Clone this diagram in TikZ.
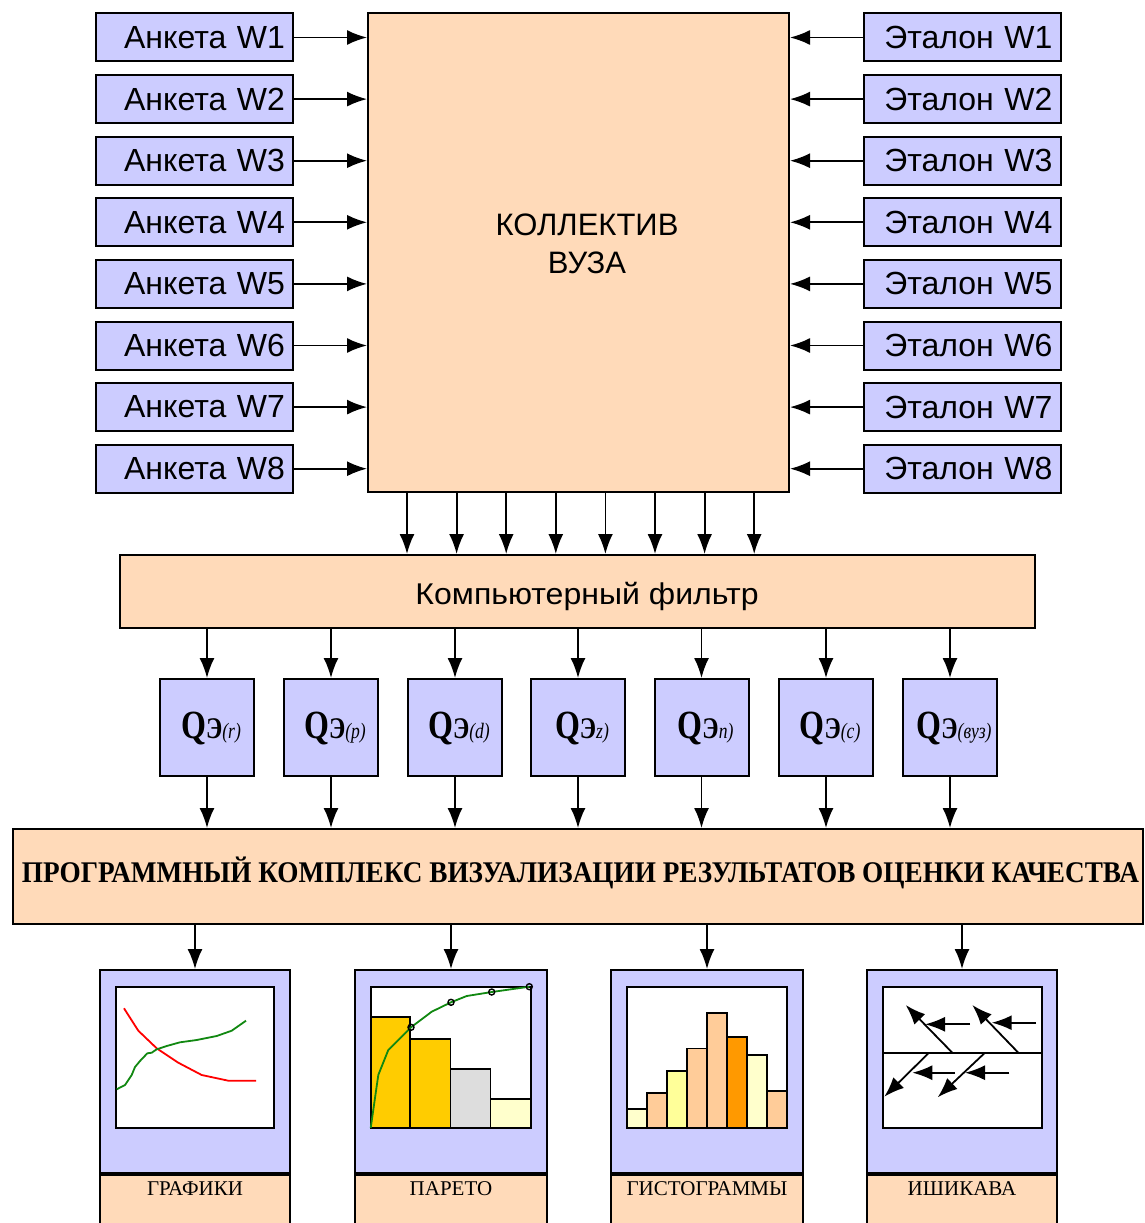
\documentclass[tikz,border=0pt]{standalone}
\usepackage{graphicx}
\usepackage{fontspec}
\setmainfont{Liberation Serif}
\setsansfont{Liberation Sans}
\usetikzlibrary{arrows.meta}
\definecolor{lav}{HTML}{CCCCFF}
\definecolor{peach}{HTML}{FFDAB9}
\definecolor{dgreen}{HTML}{118811}
\definecolor{yel}{HTML}{FFCC00}
\definecolor{lgray}{HTML}{DDDDDD}
\definecolor{lyel}{HTML}{FFFFCC}
\definecolor{myel}{HTML}{FFFF99}
\definecolor{lor}{HTML}{FFCC99}
\definecolor{dor}{HTML}{FF9900}
\newcommand{\qlabel}[1]{\scalebox{0.8}[1]{\bfseries{\fontsize{40}{40}\selectfont Q}{\fontsize{30}{30}\selectfont Э}{\fontsize{22}{22}\selectfont\mdseries\itshape #1}}}
\begin{document}
\begin{tikzpicture}[x=1pt,y=-1pt,
  box/.style={draw=black,line width=2pt,inner sep=0pt},
  wbox/.style={box,fill=lav,minimum width=197pt,minimum height=48pt,text width=181pt,inner xsep=8pt,align=right,font=\sffamily\fontsize{32}{32}\selectfont},
  qbox/.style={box,fill=lav,minimum width=94pt,minimum height=97pt},
  arr/.style={line width=1.8pt,-{Latex[length=20pt,width=15pt]}},
  farr/.style={line width=1.8pt,-{Latex[length=20pt,width=15pt]}},
  chart/.style={draw=black,line width=1.8pt,fill=white,minimum height=141pt,inner sep=0pt},
  bar/.style={draw=black,line width=1.6pt},
  lbl/.style={font=\fontsize{21}{21}\selectfont}
]
\useasboundingbox (0,0) rectangle (1145,1223);
\fill[white] (0,0) rectangle (1145,1223);
% central box
\node[box,fill=peach,minimum width=421pt,minimum height=479pt] (kv) at (578.5,252.5) {};
\node[font=\sffamily\fontsize{31}{38}\selectfont,align=center] (kvt) at (587,244) {КОЛЛЕКТИВ\\ВУЗА};
\foreach \i in {1,...,8}{
  \pgfmathsetmacro\yy{37.5+(\i-1)*61.6}
  \node[wbox] (a\i) at (194.5,\yy) {Анкета W\i};
  \node[wbox] (e\i) at (962,\yy) {Эталон W\i};
  \draw[arr] (a\i.east) -- (kv.west |- a\i.east);
  \draw[arr] (e\i.west) -- (kv.east |- e\i.west);
}
% filter
\node[box,fill=peach,minimum width=915pt,minimum height=73pt] (filt) at (577.5,591.5) {};
\node[font=\sffamily\fontsize{30}{30}\selectfont] (filtt) at (587,596) {\resizebox{343pt}{\height}{Компьютерный фильтр}};
\foreach \j in {0,...,7}{
  \pgfmathsetmacro\xx{407+\j*49.6}
  \coordinate (d\j) at (\xx,0);
  \draw[arr] (kv.south -| d\j) -- (filt.north -| d\j);
}
% program box
\node[box,fill=peach,minimum width=1130pt,minimum height=95pt] (prog) at (578,876.5) {};
\node[font=\fontsize{30}{30}\selectfont\bfseries] (progt) at (580.5,873) {\resizebox{1117pt}{\height}{ПРОГРАММНЫЙ КОМПЛЕКС ВИЗУАЛИЗАЦИИ РЕЗУЛЬТАТОВ ОЦЕНКИ КАЧЕСТВА}};
% Q boxes
\foreach \xx/\s [count=\k] in {207/(r),331/(p),455/(d),578/z),701.5/n),826/(c),950/(вуз)}{
  \node[qbox] (q\k) at (\xx,727.5) {};
  \node (qt\k) at (\xx+4,728) {\qlabel{\s}};
  \draw[arr] (filt.south -| q\k) -- (q\k.north);
  \draw[arr] (q\k.south) -- (prog.north -| q\k);
}
% panels
\foreach \xx/\w/\t [count=\k] in {195/190/ГРАФИКИ,451/192/ПАРЕТО,707/192/ГИСТОГРАММЫ,962/190/ИШИКАВА}{
  \node[box,fill=lav,minimum width=\w pt,minimum height=203pt] (p\k) at (\xx,1071.5) {};
  \node[box,fill=peach,minimum width=\w pt,minimum height=53pt,anchor=north] (l\k) at (p\k.south) {};
  \node[lbl] (lt\k) at (\xx,1189) {\t};
  \draw[arr] (prog.south -| p\k) -- (p\k.north);
}
% chart frames
\node[chart,minimum width=158pt] (c1) at (195,1057.5) {};
\node[chart,minimum width=160pt] (c2) at (450.7,1057.5) {};
\node[chart,minimum width=160pt] (c3) at (706.7,1057.5) {};
\node[chart,minimum width=159pt] (c4) at (962.2,1057.5) {};
% chart 1: lines
\draw[red,line width=1.8pt,line join=round] (124,1008.3) -- (138.3,1030.7) -- (156.7,1048.3) -- (178.3,1062.7) -- (201.7,1075) -- (228.3,1080.7) -- (256,1080.7);
\draw[dgreen,line width=1.8pt,line join=round] (116.7,1089.3) -- (125,1085) -- (131.7,1075) -- (135,1067) -- (140,1061) -- (147.3,1053.3) -- (151.7,1052.7) -- (156.7,1049.3) -- (166.7,1046) -- (180,1042.3) -- (196.7,1040) -- (216.7,1036) -- (231.7,1030.7) -- (246,1020.7);
% chart 2: pareto
\draw[bar,fill=yel] (370.7,1017) rectangle (410,1128);
\draw[bar,fill=yel] (410,1038.7) rectangle (450.3,1128);
\draw[bar,fill=lgray] (450.3,1068.7) rectangle (490.3,1128);
\draw[bar,fill=lyel] (490.3,1098.7) rectangle (530.7,1128);
\draw[dgreen,line width=1.8pt,line join=round] (370.7,1128) -- (378.3,1075) -- (388.3,1050) -- (398.3,1040) -- (411,1027.3) -- (431.7,1011.7) -- (451,1002.3) -- (466.7,996) -- (491.7,992) -- (529.3,986.7);
\foreach \p in {(411,1027.3),(451,1002.3),(491.7,992),(529.3,986.7)}{
  \draw[black,line width=1.4pt] \p circle (3pt);
}
% chart 3: histogram
\foreach \t/\c [count=\n from 0] in {1109/lyel,1092.7/lor,1070.7/myel,1048.3/lor,1012.7/lor,1037/dor,1055/lyel,1090.7/lor}{
  \draw[bar,fill=\c] (626.7+\n*20,\t) rectangle (646.7+\n*20,1128);
}
% chart 4: ishikawa
\draw[line width=1.6pt] (882.7,1052.7) -- (1041.7,1052.7);
\draw[farr] (952.3,1052.7) -- (905.7,1005);
\draw[farr] (1018.3,1052.7) -- (972.3,1005);
\draw[farr] (970,1024.3) -- (925,1024.3);
\draw[farr] (1036,1022.7) -- (991.7,1022.7);
\draw[farr] (929,1052.7) -- (884.3,1096.7);
\draw[farr] (985,1052.7) -- (937.7,1097.3);
\draw[farr] (955,1072.7) -- (912.3,1072.7);
\draw[farr] (1009.3,1072.7) -- (965,1072.7);
\end{tikzpicture}
\end{document}
